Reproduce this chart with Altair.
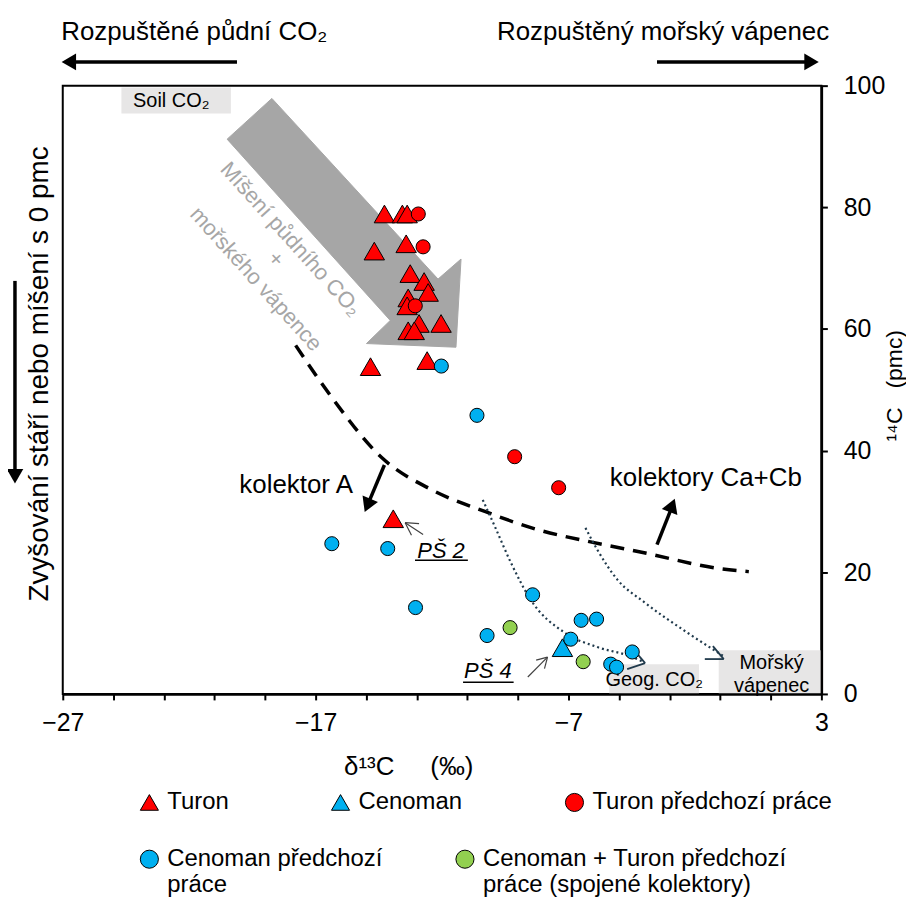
import altair as alt
import pandas as pd

FONT = "Liberation Sans"
NB = "\u00a0"

# ---------------- measured points ----------------
turon_x = [-14.28, -13.57, -13.38, -14.68, -13.42, -13.26, -12.71, -12.55, -13.34,
           -13.38, -12.91, -12.04, -13.34, -13.10, -14.83, -12.59, -13.93]
turon_y = [78.9, 78.9, 78.9, 72.8, 74.0, 69.1, 67.8, 66.0, 65.1,
           63.8, 60.9, 60.9, 59.7, 59.7, 53.8, 54.8, 28.8]
cenoman_x = [-7.24]
cenoman_y = [7.6]
turon_prev_x = [-12.94, -12.75, -13.06, -9.13, -7.39]
turon_prev_y = [78.9, 73.5, 63.8, 39.0, 33.9]
cenoman_prev_x = [-12.03, -10.62, -16.36, -14.15, -13.05, -8.42, -10.22, -6.50,
                  -5.89, -6.91, -4.48, -5.33, -5.10]
cenoman_prev_y = [53.9, 45.8, 24.7, 23.9, 14.2, 16.3, 9.6, 12.1,
                  12.3, 9.0, 6.9, 4.9, 4.4]
joint_prev_x = [-9.31, -6.42]
joint_prev_y = [10.9, 5.3]

series_a = ["Turon", "Cenoman", "Turon předchozí práce"]
series_b = ["Cenoman předchozí|práce", "Cenoman + Turon předchozí|práce (spojené kolektory)"]

# ---------------- boundary and mixing curves ----------------
bound_x = [-17.79, -16.37, -14.40, -12.43, -10.31, -8.22, -6.13, -4.01, -1.02, 0.13]
bound_y = [57.3, 48.8, 38.9, 33.6, 30.0, 27.0, 25.0, 23.2, 20.6, 20.1]
geo_x = [-10.39, -9.91, -9.28, -8.50, -7.16, -5.86, -4.56, -4.01]
geo_y = [31.9, 27.5, 21.6, 15.5, 10.1, 7.7, 6.2, 5.2]
sea_x = [-6.33, -5.86, -5.07, -4.01, -2.31, -0.86]
sea_y = [27.3, 23.7, 18.8, 15.1, 10.1, 6.2]

# big grey mixing arrow outline
mix_arrow_x = [-18.73, -12.16, -11.25, -11.45, -14.99, -14.05, -20.50]
mix_arrow_y = [97.9, 68.2, 71.5, 57.0, 57.6, 61.4, 91.2]

# ---------------- annotations ----------------
box_x = [-24.68, -5.39, -1.06]
box_x2 = [-20.35, -1.84, 3.0]
box_y = [99.7, 4.9, 7.2]
box_y2 = [95.4, 0.0, 0.0]
box_text = ["Soil CO₂", "Geog. CO₂", "Mořský\nvápenec"]
box_tx = [-22.71, -3.61, 1.03]
box_ty = [97.4, 2.29, 5.1]

hdr_text = ["Rozpuštěné půdní CO₂", "Rozpuštěný mořský vápenec"]
hdr_x = [-21.80, -3.26]
hdr_y = [108.8, 108.8]

side_text = ["Zvyšování stáří nebo míšení s 0 pmc"]
side_x = [-27.91]
side_y = [52.6]

kol_text = ["kolektor A", "kolektory Ca+Cb"]
kol_x = [-17.77, -1.57]
kol_y = [34.37, 35.5]

mix_text = ["Míšení půdního CO₂", "+", "mořského vápence"]
mix_x = [-17.98, -18.57, -19.36]
mix_y = [74.8, 71.5, 68.2]

ps_text = ["PŠ 2", "PŠ 4"]
ps_x = [-12.04, -10.19]
ps_y = [23.57, 3.76]
ul_x = [-13.07, -11.17]
ul_x2 = [-10.98, -9.17]
ul_y = [21.98, 1.91]

# thick arrows: shafts and heads
shaft_x = [-20.11, -3.50, -28.89, -14.28, -3.50]
shaft_x2 = [-26.65, 2.49, -28.89, -14.91, -2.94]
shaft_y = [103.9, 103.9, 67.9, 37.64, 24.55]
shaft_y2 = [103.9, 103.9, 36.8, 31.42, 30.44]
head_x = [-26.76, 2.61, -28.89, -14.95, -2.90]
head_y = [103.9, 103.9, 35.8, 31.0, 31.0]
head_angle = [270, 90, 180, 202.6, 21]

# thin pointer arrows (PŠ) : shaft + two arms each
thin_x = [-12.75, -13.46, -13.46, -8.61, -7.83, -7.83]
thin_x2 = [-13.46, -13.21, -12.91, -7.83, -8.28, -7.95]
thin_y = [26.19, 28.15, 28.15, 2.78, 6.06, 6.06]
thin_y2 = [28.15, 26.10, 28.00, 6.06, 5.55, 4.16]

# chevrons at the end of dotted curves
chev_x = [-3.97, -3.97, -0.86, -0.86]
chev_x2 = [-4.68, -4.44, -1.61, -1.29]
chev_y = [5.07, 5.07, 5.73, 5.73]
chev_y2 = [4.09, 7.36, 5.73, 7.86]

tick_values = list(range(-27, 4, 2))
label_values = [-27, -17, -7, 3]
y_values = [0, 20, 40, 60, 80, 100]

X_TITLE = "δ¹³C" + NB * 5 + "(‰)"
Y_TITLE = "¹⁴C" + NB * 3 + "(pmc)"

# ---------------- scales / axes ----------------
xs = alt.Scale(domain=[-27, 3], nice=False, zero=False)
ys = alt.Scale(domain=[0, 100], nice=False, zero=False)

x_axis = alt.Axis(
    values=tick_values,
    labelExpr="indexof(" + str(label_values) + ", datum.value) >= 0 ? replace(format(datum.value, 'd'), '-', '−') : ''",
    title=X_TITLE, titleFontSize=26, titleFontWeight="normal", titleColor="black",
    titleX=347, titleY=73, titleBaseline="middle", titleAlign="center",
    tickSize=6, tickWidth=2, tickColor="black", domainColor="black", domainWidth=2.5,
    labelFontSize=25, labelPadding=11, labelColor="black", labelFlush=False, labelOverlap=False,
    grid=False, zindex=1,
)
y_axis = alt.Axis(
    orient="right", values=y_values,
    title=Y_TITLE, titleFontSize=23, titleFontWeight="normal", titleColor="black",
    titleAngle=270, titleX=73, titleY=301, titleBaseline="middle", titleAlign="center",
    tickSize=6, tickWidth=2, tickColor="black", domainColor="black", domainWidth=2.5,
    labelFontSize=25, labelPadding=16, labelColor="black", labelFlush=False, labelOverlap=False,
    grid=False, zindex=1,
)


def X(f="x"):
    return alt.X(f"{f}:Q", scale=xs, axis=x_axis, title=X_TITLE)


def Y(f="y"):
    return alt.Y(f"{f}:Q", scale=ys, axis=y_axis, title=Y_TITLE)


# ---------------- tables ----------------
rows_a = ([{"series": series_a[0], "x": a, "y": b, "sz": 420} for a, b in zip(turon_x, turon_y)]
          + [{"series": series_a[1], "x": a, "y": b, "sz": 420} for a, b in zip(cenoman_x, cenoman_y)]
          + [{"series": series_a[2], "x": a, "y": b, "sz": 200} for a, b in zip(turon_prev_x, turon_prev_y)])
df_a = pd.DataFrame(rows_a)
df_a["o"] = range(len(df_a))
rows_b = ([{"series": series_b[0], "x": a, "y": b, "sz": 200} for a, b in zip(cenoman_prev_x, cenoman_prev_y)]
          + [{"series": series_b[1], "x": a, "y": b, "sz": 200} for a, b in zip(joint_prev_x, joint_prev_y)])
df_b = pd.DataFrame(rows_b)

df_boxes = pd.DataFrame({"x": box_x, "x2": box_x2, "y": box_y, "y2": box_y2})
df_boxtext = pd.DataFrame({"x": box_tx, "y": box_ty, "t": box_text})
df_arrow = pd.DataFrame({"x": mix_arrow_x, "y": mix_arrow_y, "i": range(len(mix_arrow_x))})
df_mix = pd.DataFrame({"x": mix_x, "y": mix_y, "t": mix_text})
df_bound = pd.DataFrame({"x": bound_x, "y": bound_y})
df_dot = pd.concat([pd.DataFrame({"x": geo_x, "y": geo_y, "c": "geo"}),
                    pd.DataFrame({"x": sea_x, "y": sea_y, "c": "sea"})])
df_chev = pd.DataFrame({"x": chev_x, "x2": chev_x2, "y": chev_y, "y2": chev_y2})
df_shaft = pd.DataFrame({"x": shaft_x, "x2": shaft_x2, "y": shaft_y, "y2": shaft_y2})
df_head = pd.DataFrame({"x": head_x, "y": head_y, "a": head_angle})
df_thin = pd.DataFrame({"x": thin_x, "x2": thin_x2, "y": thin_y, "y2": thin_y2})
df_ul = pd.DataFrame({"x": ul_x, "x2": ul_x2, "y": ul_y})
df_hdr = pd.DataFrame({"x": hdr_x, "y": hdr_y, "t": hdr_text})
df_side = pd.DataFrame({"x": side_x, "y": side_y, "t": side_text})
df_kol = pd.DataFrame({"x": kol_x, "y": kol_y, "t": kol_text})
df_ps = pd.DataFrame({"x": ps_x, "y": ps_y, "t": ps_text})

# ---------------- layers ----------------
boxes = alt.Chart(df_boxes).mark_rect(fill="#e7e6e6").encode(
    x=X(), x2="x2:Q", y=Y(), y2="y2:Q")

grey_arrow = alt.Chart(df_arrow).mark_line(
    fill="#a6a6a6", stroke="#a6a6a6", strokeWidth=1, interpolate="linear-closed"
).encode(x=X(), y=Y(), order="i:Q")

box_labels = alt.Chart(df_boxtext).mark_text(
    fontSize=20, color="black", lineBreak="\n", align="center", baseline="middle", lineHeight=23
).encode(x=X(), y=Y(), text="t:N")

mix_labels = alt.Chart(df_mix).mark_text(
    fontSize=22, color="#a6a6a6", angle=48, align="center", baseline="middle"
).encode(x=X(), y=Y(), text="t:N")

boundary = alt.Chart(df_bound).mark_line(
    color="black", strokeWidth=3.5, strokeDash=[14, 9], interpolate="monotone"
).encode(x=X(), y=Y())

dotted = alt.Chart(df_dot).mark_line(
    color="#203a4c", strokeWidth=2.2, strokeDash=[2, 3], interpolate="monotone"
).encode(x=X(), y=Y(), detail="c:N")

chevrons = alt.Chart(df_chev).mark_rule(color="#203a4c", strokeWidth=1.8).encode(
    x=X(), x2="x2:Q", y=Y(), y2="y2:Q")

legend_common = dict(
    orient="none", direction="horizontal", title=None, labelFontSize=24, labelColor="black",
    labelLimit=500, symbolSize=330, symbolStrokeColor="black", symbolStrokeWidth=1,
    labelOffset=6, padding=0,
)
leg_a = alt.Legend(legendX=75, legendY=708, columnPadding=100, **legend_common)
leg_b = alt.Legend(legendX=75, legendY=765, columnPadding=70,
                   labelExpr="split(datum.label, '|')", labelBaseline="middle", **legend_common)

pts_a = alt.Chart(df_a).mark_point(filled=True, stroke="black", strokeWidth=1, opacity=1).encode(
    x=X(), y=Y(),
    color=alt.Color("series:N", scale=alt.Scale(domain=series_a, range=["#ff0000", "#00b0f0", "#ff0000"]), legend=leg_a),
    shape=alt.Shape("series:N", scale=alt.Scale(domain=series_a, range=["triangle-up", "triangle-up", "circle"]), legend=leg_a),
    size=alt.Size("sz:Q", scale=None, legend=None),
    order="o:Q",
)
pts_b = alt.Chart(df_b).mark_point(filled=True, stroke="black", strokeWidth=1, opacity=1).encode(
    x=X(), y=Y(),
    color=alt.Color("series:N", scale=alt.Scale(domain=series_b, range=["#00b0f0", "#92d050"]), legend=leg_b),
    shape=alt.Shape("series:N", scale=alt.Scale(domain=series_b, range=["circle", "circle"]), legend=leg_b),
    size=alt.Size("sz:Q", scale=None, legend=None),
)

shafts = alt.Chart(df_shaft).mark_rule(color="black", strokeWidth=3.5).encode(
    x=X(), x2="x2:Q", y=Y(), y2="y2:Q")
heads = alt.Chart(df_head).mark_point(shape="triangle-up", filled=True, color="black", size=280, opacity=1).encode(
    x=X(), y=Y(), angle=alt.Angle("a:Q", scale=None))
thin = alt.Chart(df_thin).mark_rule(color="#404040", strokeWidth=1.2).encode(
    x=X(), x2="x2:Q", y=Y(), y2="y2:Q")
underline = alt.Chart(df_ul).mark_rule(color="black", strokeWidth=1.5).encode(
    x=X(), x2="x2:Q", y=Y())

headers = alt.Chart(df_hdr).mark_text(fontSize=26, color="black", align="center", baseline="middle").encode(
    x=X(), y=Y(), text="t:N")
side = alt.Chart(df_side).mark_text(fontSize=28, color="black", angle=270, align="center", baseline="middle").encode(
    x=X(), y=Y(), text="t:N")
kol = alt.Chart(df_kol).mark_text(fontSize=26, color="black", align="center", baseline="middle").encode(
    x=X(), y=Y(), text="t:N")
ps = alt.Chart(df_ps).mark_text(fontSize=22, fontStyle="italic", color="black", align="center", baseline="middle").encode(
    x=X(), y=Y(), text="t:N")

chart = alt.layer(
    boxes, grey_arrow, box_labels, mix_labels, boundary, dotted, chevrons,
    pts_a, pts_b, shafts, heads, thin, underline, headers, side, kol, ps,
).resolve_scale(
    color="independent", shape="independent"
).properties(
    width=762, height=611,
    autosize=alt.AutoSizeParams(type="none"),
    padding={"left": 55, "top": 76, "right": 85, "bottom": 205},
).configure(font=FONT).configure_view(stroke="black", strokeWidth=2).configure_axis(
    labelFontSize=25, titleFontWeight="normal",
    labelColor="black", titleColor="black", labelFont=FONT, titleFont=FONT,
)

chart.save("out.html", embed_options={"renderer": "svg", "actions": False})
